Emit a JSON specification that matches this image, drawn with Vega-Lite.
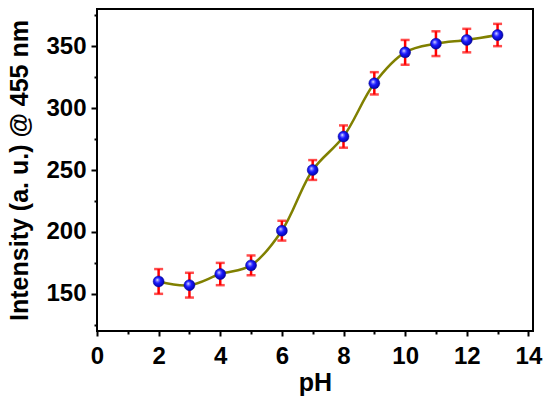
{
  "$schema": "https://vega.github.io/schema/vega-lite/v6.json",
  "autosize": "none",
  "width": 436,
  "height": 322,
  "padding": {"left": 97, "top": 9, "right": 17, "bottom": 72},
  "background": "white",
  "config": {
    "font": "Liberation Sans",
    "view": {"stroke": "black", "strokeWidth": 2},
    "axis": {
      "grid": false,
      "domain": false,
      "tickColor": "black",
      "tickWidth": 2,
      "labelColor": "black",
      "labelFont": "Liberation Sans",
      "labelFontWeight": "bold",
      "labelFontSize": 24,
      "labelFlush": false,
      "labelOverlap": false,
      "titleColor": "black",
      "titleFont": "Liberation Sans",
      "titleFontWeight": "bold",
      "titleFontSize": 25
    }
  },
  "data": {
    "values": [
      {"pH": 2, "intensity": 160, "lo": 150, "hi": 170},
      {"pH": 3, "intensity": 157, "lo": 147, "hi": 167},
      {"pH": 4, "intensity": 166, "lo": 157, "hi": 175},
      {"pH": 5, "intensity": 173, "lo": 165, "hi": 181},
      {"pH": 6, "intensity": 201, "lo": 193, "hi": 209},
      {"pH": 7, "intensity": 250, "lo": 242, "hi": 258},
      {"pH": 8, "intensity": 277, "lo": 268, "hi": 286},
      {"pH": 9, "intensity": 320, "lo": 311, "hi": 329},
      {"pH": 10, "intensity": 345, "lo": 335, "hi": 355},
      {"pH": 11, "intensity": 352, "lo": 342, "hi": 362},
      {"pH": 12, "intensity": 355, "lo": 345, "hi": 364},
      {"pH": 13, "intensity": 359, "lo": 350, "hi": 368}
    ]
  },
  "layer": [
    {
      "mark": {"type": "line", "interpolate": "catmull-rom", "color": "#808000", "strokeWidth": 2.5},
      "encoding": {
        "x": {
          "field": "pH", "type": "quantitative",
          "scale": {"domain": [0, 14.15], "nice": false, "zero": false},
          "axis": {"orient": "bottom", "values": [0, 2, 4, 6, 8, 10, 12, 14], "tickSize": 5, "labelPadding": 8, "title": "pH", "titlePadding": 2}
        },
        "y": {
          "field": "intensity", "type": "quantitative",
          "scale": {"domain": [120, 380], "nice": false, "zero": false},
          "axis": {"orient": "left", "values": [150, 200, 250, 300, 350], "tickSize": 6, "labelPadding": 5, "title": "Intensity (a. u.) @ 455 nm", "titlePadding": 13}
        }
      }
    },
    {
      "mark": {"type": "rule", "color": "#ff0000", "strokeWidth": 2.5},
      "encoding": {
        "x": {"field": "pH", "type": "quantitative", "axis": null},
        "y": {"field": "lo", "type": "quantitative", "axis": null},
        "y2": {"field": "hi"}
      }
    },
    {
      "mark": {"type": "tick", "color": "#ff0000", "size": 9, "thickness": 2.5, "orient": "horizontal"},
      "encoding": {
        "x": {"field": "pH", "type": "quantitative", "axis": null},
        "y": {"field": "lo", "type": "quantitative", "axis": null}
      }
    },
    {
      "mark": {"type": "tick", "color": "#ff0000", "size": 9, "thickness": 2.5, "orient": "horizontal"},
      "encoding": {
        "x": {"field": "pH", "type": "quantitative", "axis": null},
        "y": {"field": "hi", "type": "quantitative", "axis": null}
      }
    },
    {
      "mark": {
        "type": "point",
        "shape": "circle",
        "filled": true,
        "size": 120,
        "opacity": 1,
        "stroke": "#00008b",
        "strokeWidth": 0.5,
        "fill": {
          "gradient": "radial",
          "x1": 0.38, "y1": 0.35, "r1": 0,
          "x2": 0.45, "y2": 0.45, "r2": 0.6,
          "stops": [
            {"offset": 0, "color": "#ffffff"},
            {"offset": 0.18, "color": "#8080ff"},
            {"offset": 0.45, "color": "#1a1aff"},
            {"offset": 1, "color": "#0000a0"}
          ]
        }
      },
      "encoding": {
        "x": {"field": "pH", "type": "quantitative", "axis": null},
        "y": {"field": "intensity", "type": "quantitative", "axis": null}
      }
    },
    {
      "mark": {"type": "point", "opacity": 0},
      "encoding": {
        "x": {
          "field": "pH", "type": "quantitative",
          "axis": {"orient": "bottom", "values": [1, 3, 5, 7, 9, 11, 13], "tickSize": 3, "labels": false, "title": null}
        },
        "y": {
          "field": "intensity", "type": "quantitative",
          "axis": {"orient": "left", "values": [125, 175, 225, 275, 325, 375], "tickSize": 3, "labels": false, "title": null}
        }
      }
    }
  ],
  "resolve": {"axis": {"x": "independent", "y": "independent"}}
}
